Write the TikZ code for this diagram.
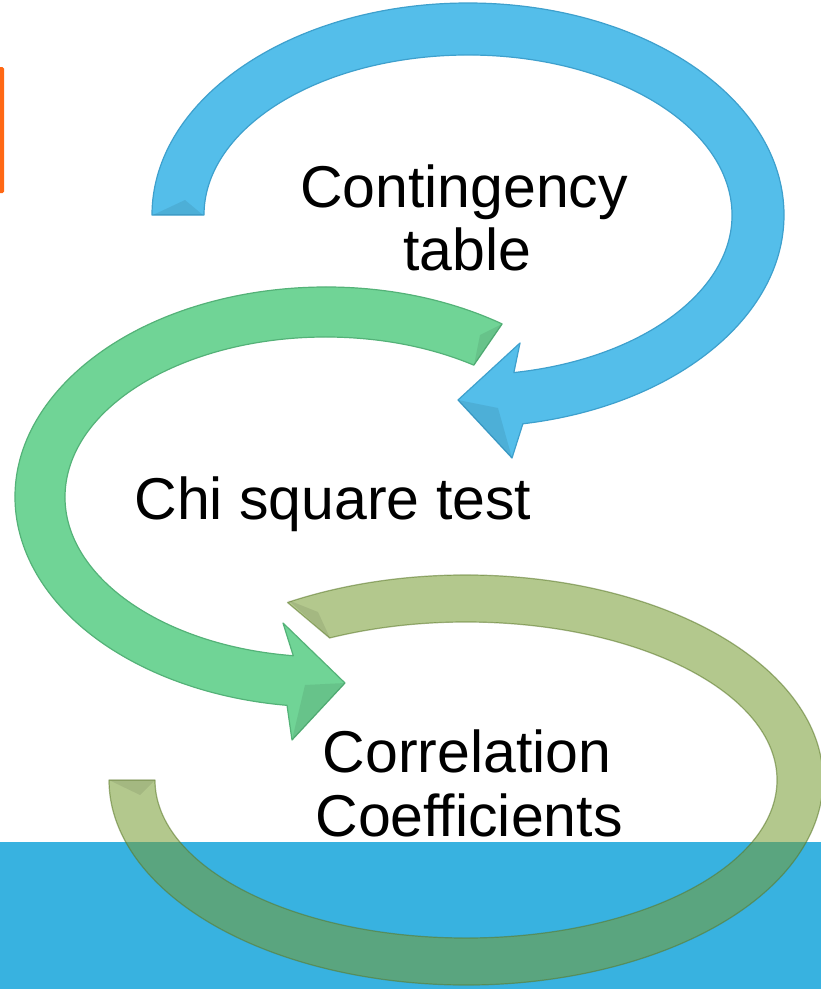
\documentclass[tikz,border=0pt]{standalone}
\usepackage{fontspec}
\setmainfont{Liberation Sans}
\definecolor{bluearr}{RGB}{84,190,234}
\definecolor{bluearredge}{RGB}{62,160,205}
\definecolor{greenarr}{RGB}{112,212,150}
\definecolor{greenarredge}{RGB}{84,178,120}
\definecolor{olivearr}{RGB}{118,155,48}
\definecolor{olivearredge}{RGB}{90,120,40}
\definecolor{bluerect}{RGB}{56,178,224}
\definecolor{orangebar}{RGB}{255,104,20}
\begin{document}
\begin{tikzpicture}[x=1pt,y=1pt,
  bluestyle/.style={fill=bluearr,draw=bluearredge,line width=1.2pt,line join=round},
  greenstyle/.style={fill=greenarr,draw=greenarredge,line width=1.2pt,line join=round},
  olivestyle/.style={fill=olivearr,draw=olivearredge,line width=1.2pt,line join=round,opacity=0.55},
  facet/.style={fill=black,opacity=0.08},
  lbl/.style={font=\fontsize{59}{59}\selectfont,inner sep=0pt,anchor=base,text=black}]
\useasboundingbox (0,0) rectangle (821,-989);
\fill[white] (0,0) rectangle (821,-989);
% orange bar
\fill[orangebar] (0,-67) -- (2.5,-67) arc[start angle=90,end angle=0,radius=1.5pt] -- (4,-191.5) arc[start angle=0,end angle=-90,radius=1.5pt] -- (0,-193) -- cycle;
% bottom blue band
\fill[bluerect] (0,-842) rectangle (821,-989);
% blue arrow
\coordinate (cb) at (468,-215);
\path[bluestyle] ([shift={(cb)}]180:316pt and 212pt)
  arc[start angle=180,end angle=-80,x radius=316pt,y radius=212pt]
  -- (512,-458) -- (458,-400) -- (520,-343)
  -- ([shift={(cb)}]-80:264pt and 160pt)
  arc[start angle=-80,end angle=180,x radius=264pt,y radius=160pt] -- cycle;
\fill[facet] (458,-400) -- (512,-458) -- (498,-408) -- cycle;
\fill[facet] (153,-215) -- (203,-215) -- (185,-200) -- cycle;
% green arrow
\coordinate (cg) at (326,-497);
\path[greenstyle] ([shift={(cg)}]55.5:311pt and 210pt)
  arc[start angle=55.5,end angle=262.8,x radius=311pt,y radius=210pt]
  -- (292,-740) -- (345,-683) -- (283,-623)
  -- ([shift={(cg)}]262.8:261pt and 160pt)
  arc[start angle=262.8,end angle=55.5,x radius=261pt,y radius=160pt] -- cycle;
\fill[facet] (345,-683) -- (292,-740) -- (305,-685) -- cycle;
\fill[facet] (502,-324) -- (474,-365) -- (480,-335) -- cycle;
% olive arc
\coordinate (co) at (466,-780);
\path[olivestyle] ([shift={(co)}]120:357pt and 205pt)
  arc[start angle=120,end angle=-180,x radius=357pt,y radius=205pt]
  -- ([shift={(co)}]180:311pt and 158pt)
  arc[start angle=-180,end angle=116,x radius=311pt,y radius=158pt] -- cycle;
\fill[facet] (288,-600) -- (330,-638) -- (318,-612) -- cycle;
\fill[facet] (109,-780) -- (155,-780) -- (140,-795) -- cycle;
% labels
\node[lbl] (t1) at (464,-207) {Contingency};
\node[lbl] (t2) at (467,-270) {table};
\node[lbl] (t3) at (333,-519) {Chi square test};
\node[lbl] (t4) at (467,-772) {Correlation};
\node[lbl] (t5) at (469,-836) {Coefficients};
\end{tikzpicture}
\end{document}
